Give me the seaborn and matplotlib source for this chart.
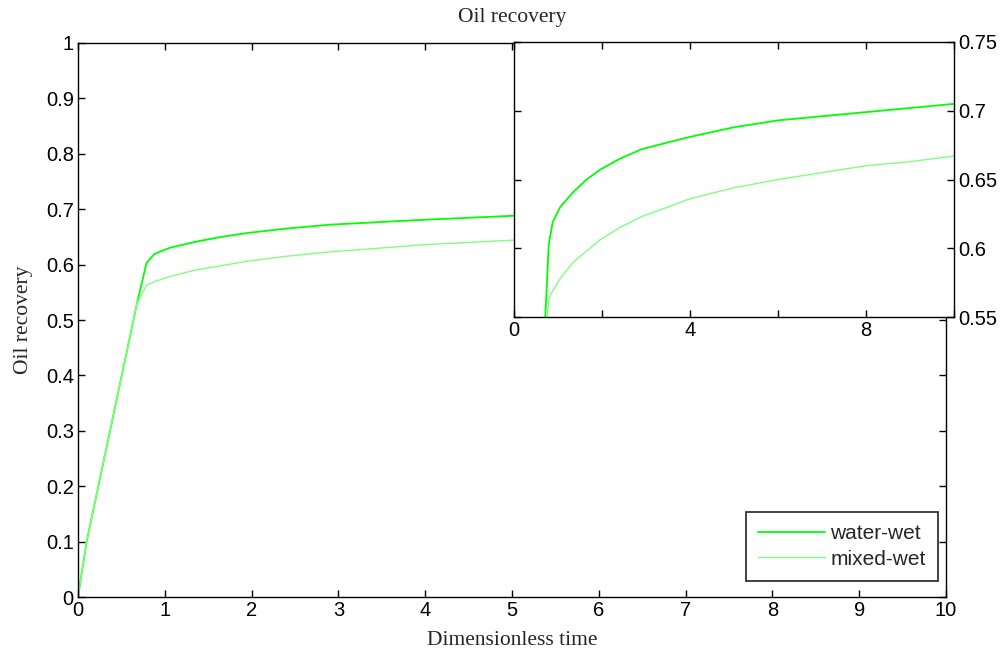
import numpy as np
import pandas as pd
import matplotlib
matplotlib.use("Agg")
import matplotlib.pyplot as plt
import seaborn as sns
from matplotlib.ticker import FuncFormatter

# data
time = [0, 0.1, 0.68, 0.79, 0.88, 1.05, 1.35, 1.65, 1.95, 2.4, 2.9, 3.5,
        4.0, 5.0, 6.0, 7.0, 8.0, 9.0, 10.0]
water_wet = [0, 0.1, 0.53, 0.603, 0.619, 0.630, 0.641, 0.650, 0.657, 0.665,
             0.672, 0.677, 0.681, 0.688, 0.693, 0.696, 0.699, 0.702, 0.705]
mixed_wet = [0, 0.1, 0.53, 0.563, 0.569, 0.578, 0.590, 0.598, 0.606, 0.615,
             0.623, 0.630, 0.636, 0.644, 0.650, 0.655, 0.660, 0.663, 0.667]

main_yticks = [0, 0.1, 0.2, 0.3, 0.4, 0.5, 0.6, 0.7, 0.8, 0.9, 1]
main_xticks = [0, 1, 2, 3, 4, 5, 6, 7, 8, 9, 10]
inset_xticks = [0, 2, 4, 6, 8, 10]
inset_xlabels = ["0", "", "4", "", "8", ""]
inset_yticks = [0.55, 0.6, 0.65, 0.7, 0.75]

df = pd.DataFrame({"time": time * 2,
                   "rec": water_wet + mixed_wet,
                   "case": ["water-wet"] * len(time) + ["mixed-wet"] * len(time)})

sns.set_theme(style="ticks")
plt.rcParams["font.family"] = ["Liberation Sans", "DejaVu Sans"]
plt.rcParams["axes.linewidth"] = 1.0

colors = {"water-wet": "#00ff00", "mixed-wet": "#80ff80"}
widths = {"water-wet": 1.3, "mixed-wet": 1.0}
serif = ["Liberation Serif", "DejaVu Serif"]

fig = plt.figure(figsize=(10.02, 6.55), dpi=100)
ax = fig.add_axes([0.0778, 0.0885, 0.8663, 0.8459])

for name in ["water-wet", "mixed-wet"]:
    sub = df[df["case"] == name]
    sns.lineplot(data=sub, x="time", y="rec", ax=ax, color=colors[name],
                 linewidth=widths[name], label=name, estimator=None, sort=False)

fmt = FuncFormatter(lambda v, p: "%g" % round(v, 2))
ax.set_xlim(0, 10)
ax.set_ylim(0, 1)
ax.set_xticks(main_xticks)
ax.set_yticks(main_yticks)
ax.xaxis.set_major_formatter(fmt)
ax.yaxis.set_major_formatter(fmt)
ax.tick_params(direction="in", top=True, right=True, length=5, width=1,
               labelsize=14.5, colors="black", pad=3)
for s in ax.spines.values():
    s.set_visible(True)
    s.set_color("black")
ax.set_xlabel("Dimensionless time", fontsize=15.5, family=serif, labelpad=8)
ax.set_ylabel("Oil recovery", fontsize=15.5, family=serif, labelpad=9)
ax.set_title("Oil recovery", fontsize=15.5, family=serif, pad=15)

leg = ax.legend(loc="lower right", bbox_to_anchor=(0.9908, 0.0289),
                borderaxespad=0, fontsize=15, frameon=True, fancybox=False,
                edgecolor="black", handlelength=3.2, handletextpad=0.25,
                labelspacing=0.3, borderpad=0.6)
leg.get_frame().set_linewidth(1.3)

# inset
axi = fig.add_axes([0.513, 0.5160, 0.4391, 0.4199], zorder=5)
axi.set_facecolor("white")
for name in ["water-wet", "mixed-wet"]:
    sub = df[df["case"] == name]
    sns.lineplot(data=sub, x="time", y="rec", ax=axi, color=colors[name],
                 linewidth=widths[name], legend=False, estimator=None, sort=False)
axi.set_xlim(0, 10)
axi.set_ylim(0.55, 0.75)
axi.set_xticks(inset_xticks)
axi.set_xticklabels(inset_xlabels)
axi.set_yticks(inset_yticks)
axi.yaxis.set_major_formatter(fmt)
axi.yaxis.tick_right()
axi.tick_params(direction="in", top=True, left=True, right=True, length=5,
                width=1, labelsize=14.5, colors="black", pad=3)
axi.tick_params(axis="y", labelleft=False, labelright=True)
axi.set_xlabel("")
axi.set_ylabel("")
for s in axi.spines.values():
    s.set_visible(True)
    s.set_color("black")

fig.savefig("out.png", dpi=100)
